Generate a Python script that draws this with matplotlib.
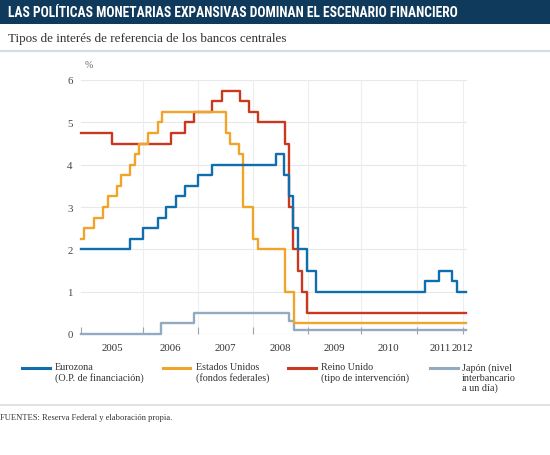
import matplotlib
matplotlib.use("Agg")
import matplotlib.pyplot as plt
from matplotlib import font_manager
from matplotlib.lines import Line2D
from matplotlib.patches import Rectangle

# ---------------- data (step start dates in decimal years, values in %) -------------
euro_t = [2005.03, 2005.92, 2006.17, 2006.43, 2006.59, 2006.76, 2006.93, 2007.17, 2007.43,
          2008.59, 2008.75, 2008.84, 2008.91, 2009.00, 2009.17, 2009.32, 2011.33, 2011.58,
          2011.82, 2011.91, 2012.08]
euro_v = [2.0, 2.25, 2.5, 2.75, 3.0, 3.25, 3.5, 3.75, 4.0,
          4.25, 3.75, 3.25, 2.5, 2.0, 1.5, 1.0, 1.25, 1.5,
          1.25, 1.0, 1.0]

us_t = [2005.03, 2005.09, 2005.27, 2005.44, 2005.52, 2005.68, 2005.76, 2005.92, 2006.02,
        2006.09, 2006.26, 2006.43, 2006.51, 2007.68, 2007.76, 2007.92, 2008.00, 2008.18,
        2008.26, 2008.76, 2008.93, 2012.08]
us_v = [2.25, 2.5, 2.75, 3.0, 3.25, 3.5, 3.75, 4.0, 4.25,
        4.5, 4.75, 5.0, 5.25, 4.75, 4.5, 4.25, 3.0, 2.25,
        2.0, 1.0, 0.25, 0.25]

uk_t = [2005.03, 2005.60, 2006.67, 2006.93, 2007.10, 2007.43, 2007.60, 2007.93, 2008.10,
        2008.27, 2008.76, 2008.84, 2008.90, 2009.00, 2009.07, 2009.17, 2012.08]
uk_v = [4.75, 4.5, 4.75, 5.0, 5.25, 5.5, 5.75, 5.5, 5.25,
        5.0, 4.5, 3.0, 2.0, 1.5, 1.0, 0.5, 0.5]

jp_t = [2005.03, 2006.50, 2007.10, 2008.84, 2008.92, 2012.08]
jp_v = [0.0, 0.25, 0.5, 0.3, 0.1, 0.1]

tick_pos = [2005.03, 2006.16, 2007.17, 2008.17, 2009.18, 2010.15, 2011.17, 2012.01]
year_labels = ["2005", "2006", "2007", "2008", "2009", "2010", "2011", "2012"]
label_pos = [2005.60, 2006.66, 2007.67, 2008.68, 2009.66, 2010.66, 2011.60, 2012.01]
y_ticks = [0, 1, 2, 3, 4, 5, 6]

title = "LAS POLÍTICAS MONETARIAS EXPANSIVAS DOMINAN EL ESCENARIO FINANCIERO"
subtitle = "Tipos de interés de referencia de los bancos centrales"
source = "FUENTES: Reserva Federal y elaboración propia."
legend_labels = ["Eurozona\n(O.P. de financiación)",
                 "Estados Unidos\n(fondos federales)",
                 "Reino Unido\n(tipo de intervención)",
                 "Japón (nivel\ninterbancario\na un día)"]

# ---------------- styling -------------------------------------------------------------
C_EURO = "#0f6eae"
C_US = "#f0a52a"
C_UK = "#c9391f"
C_JP = "#93abc0"
NAVY = "#103a5c"
SERIF = ["Liberation Serif", "DejaVu Serif"]
TXT = "#333333"

# choose a narrow sans for the title if one is installed
_fams = {f.name for f in font_manager.fontManager.ttflist}
title_family = ["Lato", "DejaVu Sans"]
title_stretch = "normal"
for cand in ["Liberation Sans Narrow", "Roboto Condensed", "Open Sans Condensed",
             "DejaVu Sans Condensed", "Noto Sans Condensed"]:
    if cand in _fams:
        title_family = [cand, "DejaVu Sans"]
        break
else:
    cond = [f for f in font_manager.fontManager.ttflist
            if f.stretch in ("condensed", "semi-condensed", 500 - 125, 375)
            and f.weight in ("bold", 700, "semibold", 600)]
    if cond:
        title_family = [cond[0].name, "DejaVu Sans"]
        title_stretch = "condensed"

W, H = 550, 456
fig = plt.figure(figsize=(W / 100, H / 100), dpi=100)
renderer = fig.canvas.get_renderer()


def fx(x):
    return x / W


def fy(y):
    return 1 - y / H


def fit_width(t, target_px):
    w = t.get_window_extent(renderer=renderer).width
    t.set_fontsize(t.get_fontsize() * target_px / w)


# title bar
fig.patches.append(Rectangle((0, fy(25)), 1, 25 / H, transform=fig.transFigure,
                             facecolor=NAVY, edgecolor="none", zorder=0))
t_title = fig.text(fx(8), fy(13), title, color="white", fontsize=9.6, fontweight="bold",
                   family=title_family, fontstretch=title_stretch,
                   va="center", ha="left")
fit_width(t_title, 452)
t_sub = fig.text(fx(8), fy(39), subtitle, color=TXT, fontsize=9.6, family=SERIF,
                 va="center", ha="left")
fit_width(t_sub, 280)
fig.lines.append(Line2D([0, 1], [fy(52), fy(52)], transform=fig.transFigure,
                        color="#d6dde2", lw=1.6))

# axes
ax = fig.add_axes([fx(81), fy(335), fx(467) - fx(81), (335 - 81) / H])
ax.set_xlim(2005.03, 2012.09)
ax.set_ylim(0, 6)
for s in ax.spines.values():
    s.set_visible(False)

for v in y_ticks:
    ax.axhline(v, color="#e6e9eb" if v else "#b9c3ca", lw=0.8, zorder=1)
for p in tick_pos[1:]:
    ax.axvline(p, color="#eceeef", lw=0.8, zorder=1)

ax.set_yticks(y_ticks)
ax.set_yticklabels([str(v) for v in y_ticks])
ax.set_xticks(tick_pos)
ax.set_xticklabels([])
ax.tick_params(axis="y", length=0, pad=6, labelsize=7.8, labelcolor="#444444")
ax.tick_params(axis="x", direction="in", length=5, color="#9aa5ad", width=0.8)
for lab in ax.get_yticklabels():
    lab.set_family(SERIF)
for p, lab in zip(label_pos, year_labels):
    ax.text(p, -0.32, lab, transform=ax.transData, ha="center", va="center",
            fontsize=7.8, family=SERIF, color=TXT, clip_on=False)
ax.text(2005.09, 6.36, "%", ha="left", va="center", fontsize=7, family=SERIF,
        color="#666666", clip_on=False)

LW = 1.7
ax.step(jp_t, jp_v, where="post", color=C_JP, lw=LW, zorder=3, clip_on=False)
ax.step(uk_t, uk_v, where="post", color=C_UK, lw=LW, zorder=4, clip_on=False)
ax.step(us_t, us_v, where="post", color=C_US, lw=LW, zorder=5, clip_on=False)
ax.step(euro_t, euro_v, where="post", color=C_EURO, lw=LW, zorder=6, clip_on=False)

# legend
leg_x = [(22, 50, 55), (163, 190, 196), (288, 316, 321), (430, 458, 462)]
for (x0, x1, xt), col, lab in zip(leg_x, [C_EURO, C_US, C_UK, C_JP], legend_labels):
    fig.lines.append(Line2D([fx(x0), fx(x1)], [fy(368.5), fy(368.5)],
                            transform=fig.transFigure, color=col, lw=2.2))
    fig.text(fx(xt), fy(363), lab, fontsize=7.3, family=SERIF, color=TXT,
             ha="left", va="top", linespacing=1.15)

fig.lines.append(Line2D([0, 1], [fy(406), fy(406)], transform=fig.transFigure,
                        color="#d6dde2", lw=1.2))
t_src = fig.text(fx(0), fy(418.5), source, fontsize=7.3, family=SERIF, color=TXT,
                 ha="left", va="center")
fit_width(t_src, 172)

fig.savefig("out.png", dpi=100)
